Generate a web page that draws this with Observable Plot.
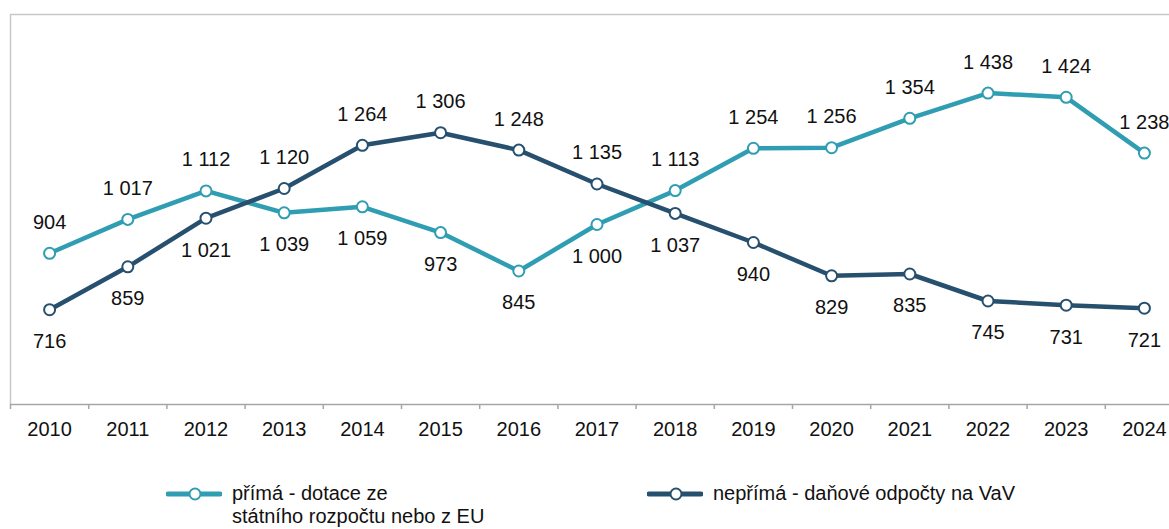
<!DOCTYPE html>
<html><head><meta charset="utf-8">
<script src="https://cdn.jsdelivr.net/npm/d3@7"></script>
<script src="https://cdn.jsdelivr.net/npm/@observablehq/plot@0.6"></script>
<style>
body{margin:0;background:#fff;font-family:"Liberation Sans",Arial,sans-serif;overflow:hidden;}
#wrap{position:relative;width:1169px;height:529px;}
.leg{position:absolute;font-size:20px;color:#111;line-height:23px;display:flex;align-items:flex-start;}
.leg svg{margin-top:1px;margin-right:10px;flex:none;}
</style></head><body>
<div id="wrap"></div>
<script>
const years = [2010,2011,2012,2013,2014,2015,2016,2017,2018,2019,2020,2021,2022,2023,2024];
const prima = [904,1017,1112,1039,1059,973,845,1000,1113,1254,1256,1354,1438,1424,1238];
const neprima = [716,859,1021,1120,1264,1306,1248,1135,1037,940,829,835,745,731,721];
const primaAbove = [1,1,1,0,0,0,0,0,1,1,1,1,1,1,1];
const neprimaAbove = [0,0,0,1,1,1,1,1,0,0,0,0,0,0,0];
const seriesNames = ["přímá - dotace ze\nstátního rozpočtu nebo z EU","nepřímá - daňové odpočty na VaV"];
const colors = ["#2F9DB2","#27506F"];

const fmt = v => String(v).replace(/\B(?=(\d{3})+(?!\d))/g, "\u00a0");
const rows = [];
years.forEach((y,i)=>{
  rows.push({year:y, value:prima[i], s:0, above:primaAbove[i]});
  rows.push({year:y, value:neprima[i], s:1, above:neprimaAbove[i]});
});
const bounds = d3.range(15).map(i=>2009.5+i);

const plot = Plot.plot({
  width:1169, height:460,
  marginTop:14, marginLeft:10, marginRight:0, marginBottom:56,
  style:{fontFamily:"Liberation Sans, Arial, sans-serif", background:"#fff", overflow:"visible"},
  x:{domain:[2009.5,2024.5], range:[10,1183], label:null},
  y:{domain:[400,1700], axis:null},
  marks:[
    Plot.ruleY([1700],{stroke:"#C8C8C8", strokeWidth:1.5}),
    Plot.ruleX([2009.5],{stroke:"#C8C8C8", strokeWidth:1.5}),
    Plot.axisX({ticks:bounds, tickSize:5, tickFormat:()=>"", label:null, stroke:"#A6A6A6", strokeWidth:1.5}),
    Plot.ruleY([400],{stroke:"#A6A6A6", strokeWidth:1.5}),
    Plot.axisX({ticks:years, tickSize:0, tickPadding:17, label:null, tickFormat:d=>String(d), fontSize:20, fill:"#111"}),
    Plot.line(rows.filter(d=>d.s===0),{x:"year",y:"value",stroke:colors[0],strokeWidth:4.5}),
    Plot.line(rows.filter(d=>d.s===1),{x:"year",y:"value",stroke:colors[1],strokeWidth:4.5}),
    Plot.dot(rows,{x:"year",y:"value",r:5.5,fill:"#fff",stroke:d=>colors[d.s],strokeWidth:2}),
    Plot.text(rows.filter(d=>d.above),{x:"year",y:"value",text:d=>fmt(d.value),dy:-31,fontSize:20,fill:"#111",lineAnchor:"middle"}),
    Plot.text(rows.filter(d=>!d.above),{x:"year",y:"value",text:d=>fmt(d.value),dy:32,fontSize:20,fill:"#111",lineAnchor:"middle"})
  ]
});
const wrap = document.getElementById("wrap");
wrap.appendChild(plot);

function legendItem(left, i){
  const div = document.createElement("div");
  div.className="leg";
  div.style.left=left+"px"; div.style.top="482px";
  div.innerHTML = `<svg width="56" height="22"><line x1="2" y1="11" x2="54" y2="11" stroke="${colors[i]}" stroke-width="5" stroke-linecap="round"/><circle cx="29" cy="11" r="5.5" fill="#fff" stroke="${colors[i]}" stroke-width="2"/></svg><span>${seriesNames[i].replace("\n","<br>")}</span>`;
  wrap.appendChild(div);
}
legendItem(166,0);
legendItem(647,1);
</script>
</body></html>
